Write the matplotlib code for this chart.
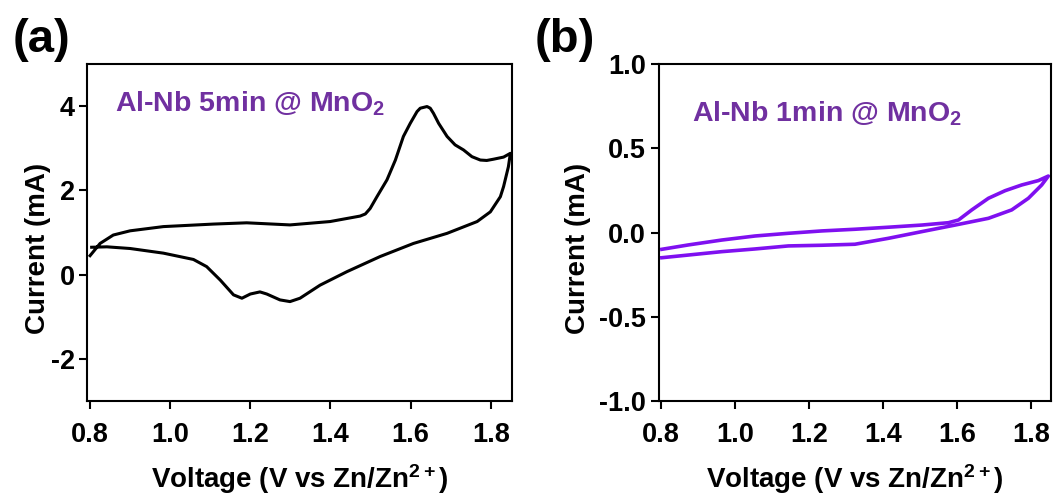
import matplotlib
matplotlib.use("Agg")
import matplotlib.pyplot as plt

plt.rcParams['font.family'] = ['Liberation Sans', 'DejaVu Sans']
plt.rcParams['font.weight'] = 'bold'
plt.rcParams['axes.labelweight'] = 'bold'
plt.rcParams['axes.unicode_minus'] = False
plt.rcParams['mathtext.fontset'] = 'custom'
plt.rcParams['mathtext.rm'] = 'Liberation Sans:bold'
plt.rcParams['mathtext.bf'] = 'Liberation Sans:bold'
plt.rcParams['mathtext.it'] = 'Liberation Sans:bold'

# (a) Al-Nb 5min @ MnO2, one CV loop (anodic sweep then cathodic sweep)
volt_a = [0.800, 0.825, 0.858, 0.900, 0.983, 1.108, 1.191, 1.299, 1.399, 1.474,
          1.487, 1.499, 1.516, 1.541, 1.562, 1.582, 1.599, 1.616, 1.624, 1.641,
          1.649, 1.657, 1.670, 1.691, 1.711, 1.732, 1.753, 1.774, 1.790, 1.807,
          1.832, 1.849,
          1.844, 1.832, 1.824, 1.799, 1.766, 1.691, 1.607, 1.524, 1.441, 1.374,
          1.324, 1.299, 1.274, 1.241, 1.224, 1.200, 1.179, 1.158, 1.125, 1.091,
          1.058, 0.983, 0.900, 0.842, 0.804]
curr_a = [0.45, 0.74, 0.94, 1.04, 1.14, 1.20, 1.23, 1.18, 1.26, 1.39,
          1.44, 1.57, 1.85, 2.25, 2.72, 3.28, 3.59, 3.87, 3.95, 3.99,
          3.95, 3.83, 3.59, 3.28, 3.08, 2.96, 2.80, 2.72, 2.71, 2.74,
          2.79, 2.88,
          2.56, 2.09, 1.85, 1.49, 1.26, 0.98, 0.74, 0.43, 0.07, -0.25,
          -0.56, -0.64, -0.60, -0.46, -0.41, -0.46, -0.56, -0.48, -0.13, 0.19,
          0.36, 0.51, 0.62, 0.66, 0.65]

# (b) Al-Nb 1min @ MnO2
volt_b = [0.802, 0.874, 0.964, 1.054, 1.144, 1.234, 1.324, 1.414, 1.505, 1.577,
          1.604, 1.640, 1.685, 1.730, 1.775, 1.820, 1.847,
          1.829, 1.793, 1.748, 1.685, 1.595, 1.505, 1.414, 1.324, 1.234,
          1.144, 1.054, 0.964, 0.874, 0.802]
curr_b = [-0.099, -0.073, -0.044, -0.020, -0.004, 0.010, 0.020, 0.032, 0.045, 0.059,
          0.075, 0.135, 0.204, 0.249, 0.283, 0.309, 0.336,
          0.283, 0.204, 0.135, 0.085, 0.045, 0.006, -0.034, -0.069, -0.075,
          -0.079, -0.097, -0.113, -0.133, -0.149]

xticks = [0.8, 1.0, 1.2, 1.4, 1.6, 1.8]
yticks_a = [-2, 0, 2, 4]
yticks_b = [-1.0, -0.5, 0.0, 0.5, 1.0]

text_color = '#7030A0'
line_b_color = '#7F10F0'

fig = plt.figure(figsize=(10.55, 4.96), dpi=100)
ax1 = fig.add_axes([0.0827, 0.1915, 0.4026, 0.6795])
ax2 = fig.add_axes([0.6242, 0.1915, 0.3716, 0.679])


def style(ax):
    for s in ax.spines.values():
        s.set_linewidth(1.5)
    ax.tick_params(direction='out', length=6, width=1.5, labelsize=19.5,
                   top=False, right=False)
    ax.tick_params(axis='x', pad=9)
    ax.tick_params(axis='y', pad=3)
    ax.set_xlim(0.793, 1.853)
    ax.set_xticks(xticks)
    ax.set_xticklabels([f"{v:.1f}" for v in xticks])
    ax.set_xlabel("Voltage (V vs Zn/Zn$^{2+}$)", fontsize=20, fontweight='bold',
                  labelpad=10)
    ax.set_ylabel("Current (mA)", fontsize=20, fontweight='bold')


ax1.plot(volt_a, curr_a, color='black', lw=2.2, solid_joinstyle='round')
style(ax1)
ax1.set_ylim(-3, 5)
ax1.set_yticks(yticks_a)
ax1.set_yticklabels([str(v) for v in yticks_a])
ax1.yaxis.set_label_coords(-0.085, 0.454)
ax1.text(0.065, 0.858, "Al-Nb 5min @ MnO$_2$", transform=ax1.transAxes,
         color=text_color, fontsize=20.5, fontweight='bold', va='baseline')

ax2.plot(volt_b, curr_b, color=line_b_color, lw=2.6, solid_joinstyle='round')
style(ax2)
ax2.set_ylim(-1, 1)
ax2.set_yticks(yticks_b)
ax2.set_yticklabels([f"{v:.1f}" for v in yticks_b])
ax2.yaxis.set_label_coords(-0.172, 0.454)
ax2.text(0.085, 0.83, "Al-Nb 1min @ MnO$_2$", transform=ax2.transAxes,
         color=text_color, fontsize=20.5, fontweight='bold', va='baseline')

fig.text(0.012, 0.895, "(a)", fontsize=34, fontweight='bold', va='baseline')
fig.text(0.507, 0.895, "(b)", fontsize=34, fontweight='bold', va='baseline')

fig.savefig("out.png", dpi=100)
